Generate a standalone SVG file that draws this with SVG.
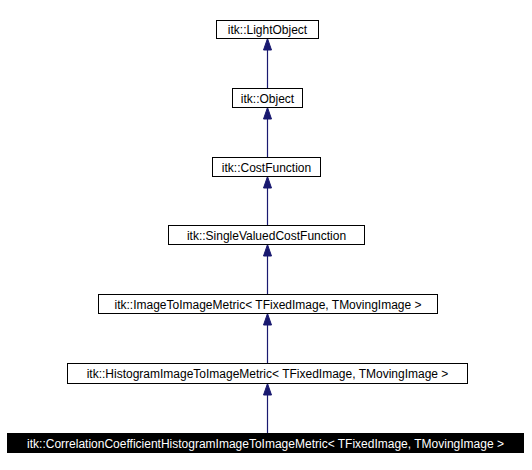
<svg xmlns="http://www.w3.org/2000/svg" width="532" height="470" viewBox="0 0 532 470">
<style>
.box{fill:#fff;stroke:#000;stroke-width:1}
.sel{fill:#000;stroke:#000;stroke-width:1}
.t{font-family:"Liberation Sans",Arial,sans-serif;font-size:12px;fill:#000;text-anchor:middle}
.tw{font-family:"Liberation Sans",Arial,sans-serif;font-size:12px;fill:#fff;text-anchor:middle}
.edge{stroke:#191970;stroke-width:1.2;fill:none}
.head{fill:#191970;stroke:#191970;stroke-width:1}
</style>
<rect width="532" height="470" fill="#fff"/>
<g id="connectors">
<line class="edge" x1="267.5" y1="88" x2="267.5" y2="48"/>
<polygon class="head" points="267.5,38.5 263.5,50 271.5,50"/>
<line class="edge" x1="267.5" y1="157" x2="267.5" y2="116"/>
<polygon class="head" points="267.5,107.5 263.5,119 271.5,119"/>
<line class="edge" x1="267.5" y1="225" x2="267.5" y2="185"/>
<polygon class="head" points="267.5,176.5 263.5,188 271.5,188"/>
<line class="edge" x1="267.5" y1="294" x2="267.5" y2="253"/>
<polygon class="head" points="267.5,244.5 263.5,256 271.5,256"/>
<line class="edge" x1="267.5" y1="363" x2="267.5" y2="322"/>
<polygon class="head" points="267.5,313.5 263.5,325 271.5,325"/>
<line class="edge" x1="267.5" y1="433" x2="267.5" y2="391"/>
<polygon class="head" points="267.5,383.5 263.5,395 271.5,395"/>
</g>
<g id="n1"><rect class="box" x="216.5" y="20.5" width="102" height="18"/><text class="t" x="267.5" y="34">itk::LightObject</text></g>
<g id="n2"><rect class="box" x="232.5" y="88.5" width="70" height="19"/><text class="t" x="267.5" y="102.5">itk::Object</text></g>
<g id="n3"><rect class="box" x="212.5" y="157.5" width="108" height="19"/><text class="t" x="266.5" y="171.5">itk::CostFunction</text></g>
<g id="n4"><rect class="box" x="168.5" y="225.5" width="196" height="19"/><text class="t" x="266.5" y="239.5">itk::SingleValuedCostFunction</text></g>
<g id="n5"><rect class="box" x="98.5" y="294.5" width="339" height="19"/><text class="t" x="268" y="308.5">itk::ImageToImageMetric&lt; TFixedImage, TMovingImage &gt;</text></g>
<g id="n6"><rect class="box" x="67.5" y="363.5" width="400" height="20"/><text class="t" x="267.5" y="378">itk::HistogramImageToImageMetric&lt; TFixedImage, TMovingImage &gt;</text></g>
<g id="n7"><rect class="sel" x="7.5" y="433.5" width="516" height="19"/><text class="tw" x="265.5" y="447.5">itk::CorrelationCoefficientHistogramImageToImageMetric&lt; TFixedImage, TMovingImage &gt;</text></g>
</svg>
